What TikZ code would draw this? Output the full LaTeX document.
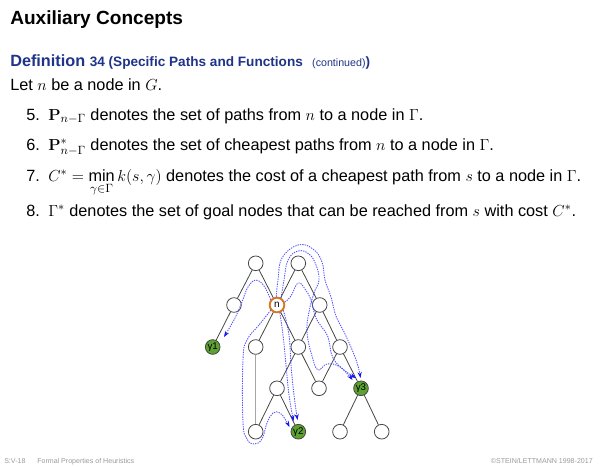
\documentclass[tikz,border=0pt]{standalone}
\usepackage[no-math]{fontspec}
\setmainfont{Liberation Sans}
\usepackage{amsmath}
\usepackage{xcolor}
\usepackage{tikz}
\usetikzlibrary{calc,arrows.meta}
\definecolor{navy}{HTML}{1F3388}
\definecolor{edge}{HTML}{454545}
\definecolor{goal}{HTML}{5DA130}
\definecolor{orng}{HTML}{D9761E}
\definecolor{pathc}{HTML}{5252FF}
\definecolor{tipc}{HTML}{1414F0}
\definecolor{foot}{HTML}{9A9A9A}
\tikzset{
  vert/.style={circle, draw=edge, fill=white, line width=0.6pt, minimum size=11pt, inner sep=0pt},
  goalv/.style={vert, fill=goal, font=\fontsize{7.3}{8}\selectfont},
  startv/.style={vert, draw=orng, line width=1.4pt, font=\fontsize{7.5}{8}\selectfont},
  link/.style={draw=edge, line width=0.6pt},
  pth/.style={draw=pathc, line width=0.65pt, dash pattern=on 1pt off 0.8pt,
    -{Stealth[length=4.5pt,width=3.2pt,color=tipc]}},
  txt/.style={anchor=base west, inner sep=0pt, font=\fontsize{12.2}{14}\selectfont},
  foottxt/.style={inner sep=0pt, text=foot, font=\fontsize{5.3}{6}\selectfont},
}

\begin{document}
\begin{tikzpicture}[x=0.75pt, y=-0.75pt]
  \useasboundingbox (0,0) rectangle (600,467);

  % heading and definition
  \node[txt, font=\bfseries\fontsize{14.3}{16}\selectfont] (title) at (10,25) {Auxiliary Concepts};
  \node[txt, text=navy] (defn) at (10,66.7) {\bfseries Definition
    \fontsize{10.2}{12}\selectfont 34 (Specific Paths and Functions\hspace{7pt}{\mdseries\fontsize{8}{10}\selectfont(continued)})};
  \node[txt] (intro) at (10,90.7) {Let $n$ be a node in $G$.};

  \node[txt] (i5) at (26,120) {5.};
  \node[txt] (t5) at (48,120) {$\mathbf{P}_{n-\Gamma}$ denotes the set of paths from $n$ to a node in $\Gamma$.};
  \node[txt] (i6) at (26,150) {6.};
  \node[txt] (t6) at (48,150) {$\mathbf{P}^*_{n-\Gamma}$ denotes the set of cheapest paths from $n$ to a node in $\Gamma$.};
  \node[txt] (i7) at (26,181.7) {7.};
  \node[txt] (t7) at (48,181.7) {$C^* = \mathop{\textnormal{min}}\limits_{\gamma\in\Gamma} k(s,\gamma)$ denotes the cost of a cheapest path from $s$ to a node in $\Gamma$.};
  \node[txt] (i8) at (26,216) {8.};
  \node[txt] (t8) at (48,216) {$\Gamma^*$ denotes the set of goal nodes that can be reached from $s$ with cost $C^*$.};

  % the graph
  \node[vert] (tl) at (255.7,263.3) {};
  \node[vert] (tr) at (298.3,263.3) {};
  \node[vert] (lm) at (234,305) {};
  \node[startv] (n) at (277,305) {n};
  \node[vert] (rm) at (319.7,305) {};
  \node[goalv] (g1) at (212.7,347) {γ1};
  \node[vert] (a3) at (255.7,347) {};
  \node[vert] (b3) at (298.3,347) {};
  \node[vert] (c3) at (340,347) {};
  \node[vert] (a4) at (277,388.3) {};
  \node[vert] (b4) at (319,388.3) {};
  \node[goalv] (g3) at (361,388.3) {γ3};
  \node[vert] (a5) at (255.7,431.7) {};
  \node[goalv] (g2) at (298.3,431.7) {γ2};
  \node[vert] (c5) at (340,431.7) {};
  \node[vert] (d5) at (381.7,431.7) {};

  \foreach \u/\v in {tl/lm, tl/n, tr/n, tr/rm, lm/g1, n/a3, n/b3, rm/b3, rm/c3,
                     b3/a4, b3/b4, c3/b4, c3/g3, a4/a5, a4/g2, g3/c5, g3/d5}
    \draw[link] (\u) -- (\v);
  \draw[link, draw=gray!70] (a3) -- (a5);

  % paths from n to the goal nodes
  \draw[pth] plot[smooth, tension=0.7] coordinates {(n.140) (264,286) (256,280) (248,287) (242,302) (235,318) (224,337)};
  \draw[pth] plot[smooth, tension=0.7] coordinates {(n.220) (259,325) (247,340) (243,360) (243,422) (247,439) (254,444) (262,439) (267,423) (273,413) (280,413) (285,419) (289.5,427)};
  \draw[pth] plot[smooth, tension=0.7] coordinates {(n.290) (283,335) (286,365) (289,395) (293.5,421)};
  \draw[pth] plot[smooth, tension=0.7] coordinates {(n.320) (289,335) (291,365) (294,395) (297.5,420)};
  \draw[pth] plot[smooth, tension=0.7] coordinates {(n.95) (278,280) (282,258) (298,245) (313,249) (322,262) (325,280) (331,297) (336,316) (345,334) (353,352) (358,366) (360.5,378)};
  \draw[pth] plot[smooth, tension=0.7] coordinates {(n.60) (284,280) (288,260) (298,251) (309,254) (316,265) (319,280) (314,293) (309,312) (307,332) (312,356) (318,370) (327,364) (340,367) (352.5,380)};
  \draw[pth] plot[smooth, tension=0.7] coordinates {(n.20) (291,296) (298,283) (305,289) (311,300) (316,318) (326,333) (329,341) (333,358) (344,370) (356,378)};

  % footer
  \node[foottxt, anchor=base west] (fl) at (4,463) {S:V-18};
  \node[foottxt, anchor=base west] (fm) at (37,463) {Formal Properties of Heuristics};
  \node[foottxt, anchor=base east] (fr) at (593,463) {©STEIN/LETTMANN 1998-2017};
\end{tikzpicture}
\end{document}
